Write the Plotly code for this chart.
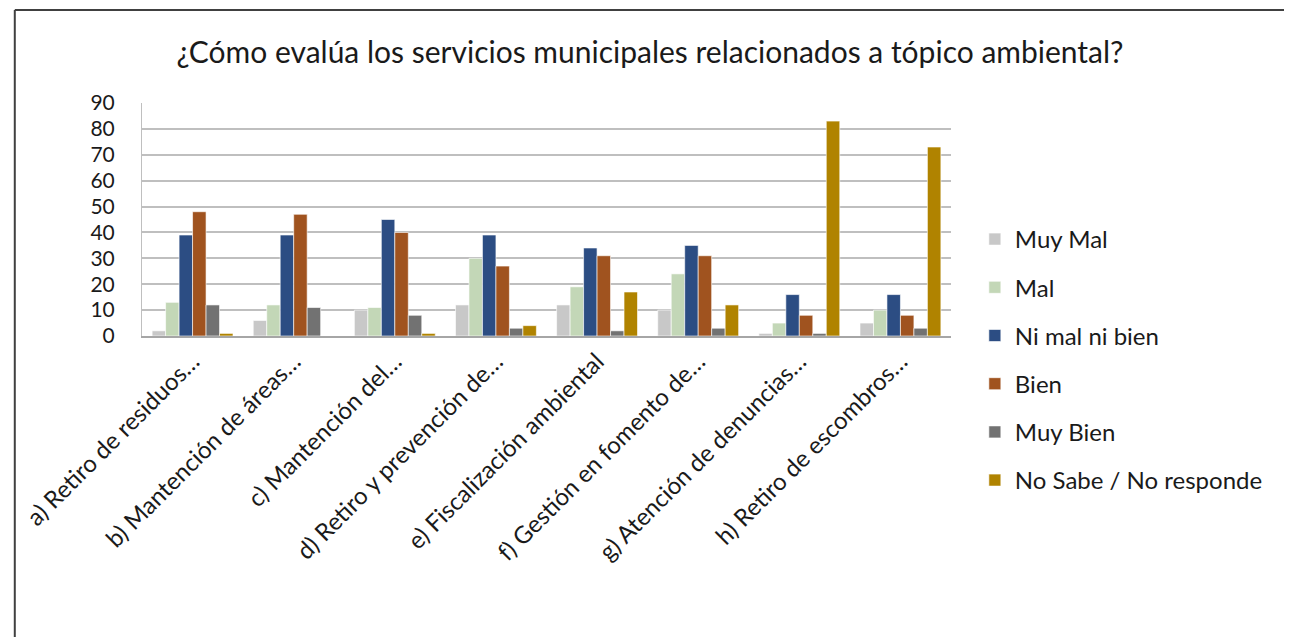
import plotly.graph_objects as go

categories = [
    "a) Retiro de residuos…",
    "b) Mantención de áreas…",
    "c) Mantención del…",
    "d) Retiro y prevención de…",
    "e) Fiscalización ambiental",
    "f) Gestión en fomento de…",
    "g) Atención de denuncias…",
    "h) Retiro de escombros…",
]
series_names = ["Muy Mal", "Mal", "Ni mal ni bien", "Bien", "Muy Bien", "No Sabe / No responde"]
muy_mal = [2, 6, 10, 12, 12, 10, 1, 5]
mal = [13, 12, 11, 30, 19, 24, 5, 10]
ni_mal_ni_bien = [39, 39, 45, 39, 34, 35, 16, 16]
bien = [48, 47, 40, 27, 31, 31, 8, 8]
muy_bien = [12, 11, 8, 3, 2, 3, 1, 3]
no_sabe = [1, 0, 1, 4, 17, 12, 83, 73]
colors = ["#C8C8C8", "#C3D7B7", "#2C4D83", "#A0531F", "#727272", "#B08300"]
y_ticks = [0, 10, 20, 30, 40, 50, 60, 70, 80, 90]

# figure geometry (page is offset by the 8px body margin)
W, H = 1284, 629
L, T, R, B = 129, 95, 943, 328
pw, ph = R - L, B - T


def px_x(x):
    return (x - L) / pw


def px_y(y):
    return (B - y) / ph


fig = go.Figure()
for i, (name, vals) in enumerate(zip(series_names, [muy_mal, mal, ni_mal_ni_bien, bien, muy_bien, no_sabe])):
    fig.add_trace(go.Bar(
        x=categories, y=vals, name=name, legendgroup=f"g{i}",
        marker=dict(color=colors[i], line=dict(color="rgba(255,255,255,0.6)", width=1)),
    ))

font_family = "Lato, 'Open Sans', sans-serif"
fig.update_layout(
    width=W, height=H,
    paper_bgcolor="white", plot_bgcolor="white",
    margin=dict(l=L, r=W - R, t=T, b=H - B),
    barmode="group", bargap=0.2, bargroupgap=0,
    font=dict(family=font_family, size=24, color="#1a1a1a"),
    title=dict(text="¿Cómo evalúa los servicios municipales relacionados a tópico ambiental?",
               x=0.5, xanchor="center", y=1 - 44 / H, yanchor="middle",
               font=dict(size=30, family=font_family, color="#1a1a1a")),
    legend=dict(x=px_x(967), xanchor="left",
                y=px_y(209), yanchor="top", maxheight=600,
                font=dict(size=24), tracegroupgap=14, bgcolor="rgba(0,0,0,0)"),
    showlegend=True,
    xaxis=dict(tickangle=-45, showline=True, linecolor="#A6A6A6", linewidth=2,
               ticks="", tickfont=dict(size=24)),
    yaxis=dict(range=[0, 90], tickvals=y_ticks, showgrid=True, gridcolor="#BFBFBF",
               gridwidth=2, showline=True, linecolor="#BFBFBF", linewidth=1,
               zeroline=False, ticks="", ticklabelstandoff=22, tickfont=dict(size=21)),
    shapes=[
        dict(type="line", xref="paper", yref="paper",
             x0=px_x(1), x1=px_x(W + 10), y0=px_y(2), y1=px_y(2),
             line=dict(color="#404040", width=2)),
        dict(type="line", xref="paper", yref="paper",
             x0=px_x(1), x1=px_x(1), y0=px_y(2), y1=px_y(H + 10),
             line=dict(color="#404040", width=2)),
    ],
)

fig.write_html("out.html")
